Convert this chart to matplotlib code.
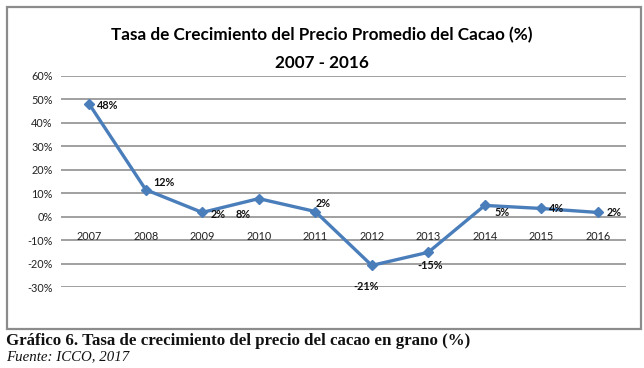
import matplotlib
matplotlib.use('Agg')
import matplotlib.pyplot as plt
import matplotlib.transforms as mtransforms
from matplotlib.patches import Rectangle
from matplotlib.ticker import FuncFormatter

# ------------------------------------------------------------
# data
# ------------------------------------------------------------
years = ['2007', '2008', '2009', '2010', '2011', '2012', '2013', '2014', '2015', '2016']
growth = [0.48, 0.115, 0.018, 0.077, 0.022, -0.208, -0.152, 0.048, 0.035, 0.018]
point_labels = ['48%', '12%', '2%', '8%', '2%', '-21%', '-15%', '5%', '4%', '2%']
y_ticks = [-0.30, -0.20, -0.10, 0.0, 0.10, 0.20, 0.30, 0.40, 0.50, 0.60]

title_1 = 'Tasa de Crecimiento del Precio Promedio del Cacao (%)'
title_2 = '2007 - 2016'
caption = 'Gráfico 6. Tasa de crecimiento del precio del cacao en grano (%)'
source = 'Fuente: ICCO, 2017'

# label offsets in pixels (dx, dy)
label_offsets = [(18, -1), (18, 7), (16, -2), (-16, -16), (8, 8),
                 (-6, -21), (2, -13), (17, -7), (15, 0), (16, 0)]

SANS = ['Lato', 'DejaVu Sans']
SERIF = ['Liberation Serif', 'DejaVu Serif']
W, H = 644, 368
LINE_COLOR = '#4a7ebb'
GRID_COLOR = '#868686'

fig = plt.figure(figsize=(W / 100, H / 100), dpi=100)
fig.patch.set_facecolor('white')

# outer chart frame
frame = Rectangle((7 / W, 1 - 329 / H), (641 - 7) / W, (329 - 7) / H,
                  transform=fig.transFigure, fill=False,
                  edgecolor='#8c8c8c', linewidth=1.6)
fig.patches.append(frame)

# plot area (pixel based)
left, right, top, bottom = 61, 626, 76, 287
ax = fig.add_axes([left / W, 1 - bottom / H, (right - left) / W, (bottom - top) / H])

x = list(range(len(years)))
ax.plot(x, growth, color=LINE_COLOR, linewidth=2.4, marker='D',
        markersize=5, markerfacecolor=LINE_COLOR, markeredgecolor=LINE_COLOR,
        zorder=3)

ax.set_xlim(-0.5, len(years) - 0.5)
ax.set_ylim(-0.30, 0.60)
ax.set_yticks(y_ticks)
ax.yaxis.set_major_formatter(FuncFormatter(lambda v, p: f'{v * 100:.0f}%'))
ax.set_xticks([])
ax.tick_params(axis='y', length=0, pad=6, labelsize=7.8, labelcolor='#222222')
for lbl in ax.get_yticklabels():
    lbl.set_family(SANS)

ax.grid(axis='y', color=GRID_COLOR, linewidth=1.1)
ax.set_axisbelow(True)
for s in ax.spines.values():
    s.set_visible(False)
ax.set_facecolor('none')

# category labels under the zero line
trans = mtransforms.blended_transform_factory(ax.transData, ax.transData)
for xi, yr in zip(x, years):
    ax.text(xi, -0.083, yr, transform=trans, ha='center', va='center',
            fontsize=7.8, family=SANS, color='#222222')

# data labels
for xi, yv, lab, (dx, dy) in zip(x, growth, point_labels, label_offsets):
    ax.annotate(lab, (xi, yv), xytext=(dx, dy), textcoords='offset pixels',
                ha='center', va='center', fontsize=7.8, fontweight='bold',
                family=SANS, color='#111111')

# title, two lines
fig.text(322 / W, 1 - 35 / H, title_1, ha='center', va='center',
         fontsize=12.3, fontweight='bold', family=SANS, color='#000000')
fig.text(322 / W, 1 - 63 / H, title_2, ha='center', va='center',
         fontsize=12.3, fontweight='bold', family=SANS, color='#000000')

# caption under the frame
fig.text(6 / W, 1 - 341 / H, caption, ha='left', va='center',
         fontsize=12.2, fontweight='bold', family=SERIF, color='#111111')
fig.text(6 / W, 1 - 357 / H, source, ha='left', va='center',
         fontsize=10.7, style='italic', family=SERIF, color='#111111')

fig.savefig('out.png', dpi=100)
